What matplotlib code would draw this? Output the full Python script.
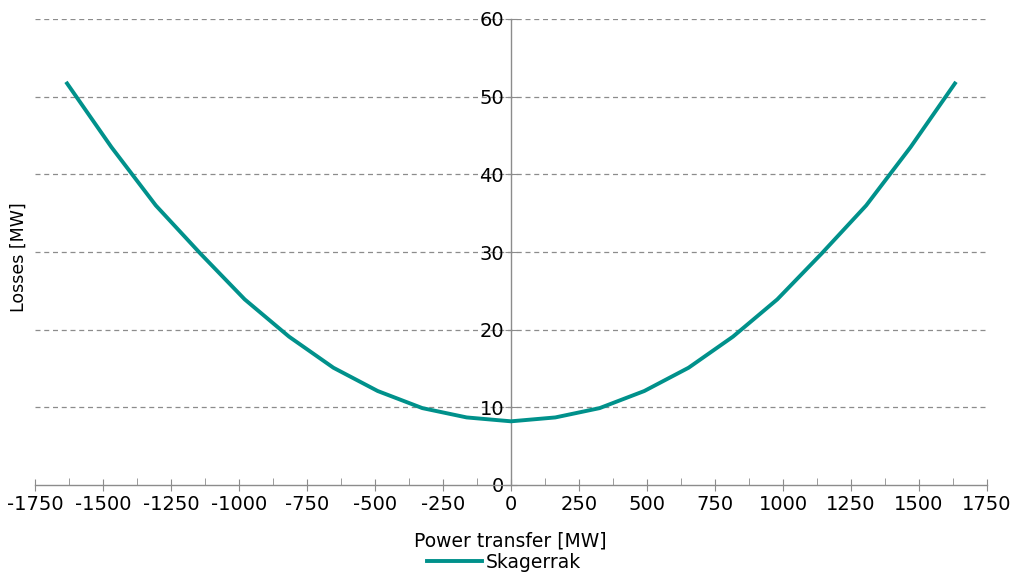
import numpy as np
import matplotlib.pyplot as plt
from matplotlib.ticker import MultipleLocator

# Skagerrak loss curve
power_mw = [-1632, -1469, -1306, -1142, -979, -816, -653, -490, -326, -163, 0,
            163, 326, 490, 653, 816, 979, 1142, 1306, 1469, 1632]
losses_mw = [51.7, 43.5, 36.0, 29.8, 23.9, 19.1, 15.1, 12.1, 9.9, 8.7, 8.2,
             8.7, 9.9, 12.1, 15.1, 19.1, 23.9, 29.8, 36.0, 43.5, 51.7]
x_ticks = list(range(-1750, 1751, 250))
y_ticks = [0, 10, 20, 30, 40, 50, 60]

plt.rcParams['font.family'] = ['DejaVu Sans']
fig = plt.figure(figsize=(10.14, 5.75), dpi=100)
ax = fig.add_axes([35 / 1014, 1 - 485 / 575, 952 / 1014, 466 / 575])

axis_grey = '#8c8c8c'
ax.set_xlim(-1750, 1750)
ax.set_ylim(0, 60)

for y in y_ticks[1:]:
    ax.axhline(y, color='#8c8c8c', lw=0.9, ls=(0, (4, 3)), zorder=0)

ax.plot(power_mw, losses_mw, color='#00918b', lw=2.8, solid_joinstyle='round',
        label='Skagerrak', zorder=3)

ax.spines['left'].set_position(('data', 0))
ax.spines['bottom'].set_position(('data', 0))
ax.spines['right'].set_visible(False)
ax.spines['top'].set_visible(False)
for s in ('left', 'bottom'):
    ax.spines[s].set_color(axis_grey)
    ax.spines[s].set_linewidth(1)

ax.set_xticks(x_ticks)
ax.set_xticklabels([str(v) for v in x_ticks])
ax.xaxis.set_minor_locator(MultipleLocator(125))
ax.set_yticks(y_ticks)
ax.tick_params(axis='x', which='major', direction='inout', length=9, color=axis_grey,
               labelsize=14, pad=3)
ax.tick_params(axis='x', which='minor', direction='in', length=5, color=axis_grey)
ax.tick_params(axis='y', which='major', direction='inout', length=8, color=axis_grey,
               labelsize=14, pad=1)

fig.text(510 / 1014, 1 - 541 / 575, 'Power transfer [MW]', ha='center', va='center',
         fontsize=13.5)
fig.text(19 / 1014, 1 - 257 / 575, 'Losses [MW]', ha='center', va='center',
         rotation=90, fontsize=12.5)

leg = fig.legend(loc='center', bbox_to_anchor=(504 / 1014, 1 - 562 / 575), frameon=False,
                 fontsize=13.5, handlelength=2.9, handletextpad=0.2, borderpad=0)

fig.savefig('out.png', dpi=100)
